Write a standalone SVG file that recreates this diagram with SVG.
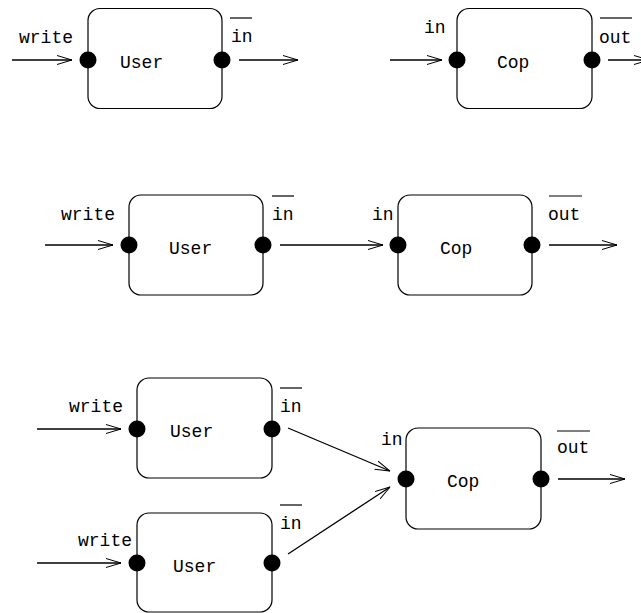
<svg xmlns="http://www.w3.org/2000/svg" width="641" height="613" viewBox="0 0 641 613">
<style>
.box{fill:none;stroke:#000;stroke-width:1.2}
.dot{fill:#000}
.t{font-family:"Liberation Mono","Courier New",monospace;font-size:18px;fill:#000}
.ov{stroke:#000;stroke-width:1.2}
.c{stroke:#000;stroke-width:1.3;fill:none;marker-end:url(#ah)}
</style>
<defs>
<marker id="ah" viewBox="0 0 15 10" refX="15" refY="5" markerWidth="15" markerHeight="10" markerUnits="userSpaceOnUse" orient="auto">
<path d="M0,0.5 L15,5 L0,9.5" fill="none" stroke="#000" stroke-width="1"/>
</marker>
</defs>
<rect width="641" height="613" fill="#fff"/>

<g id="user1">
<rect class="box" x="88" y="8.5" width="134" height="100" rx="12"/>
<circle class="dot" cx="88" cy="60" r="8.5"/>
<circle class="dot" cx="222" cy="60" r="8.5"/>
<text class="t" x="120" y="68">User</text>
<text class="t" x="19" y="43">write</text>
<text class="t" x="231" y="42">in</text>
<line class="ov" x1="230" y1="18" x2="252" y2="18"/>
</g>

<g id="cop1">
<rect class="box" x="457" y="8.5" width="135" height="100" rx="12"/>
<circle class="dot" cx="457" cy="60" r="8.5"/>
<circle class="dot" cx="592" cy="60" r="8.5"/>
<text class="t" x="497" y="68">Cop</text>
<text class="t" x="424" y="33">in</text>
<text class="t" x="599" y="43">out</text>
<line class="ov" x1="600" y1="18" x2="632" y2="18"/>
</g>

<g id="user2">
<rect class="box" x="129" y="195" width="134" height="100" rx="12"/>
<circle class="dot" cx="129" cy="245" r="8.5"/>
<circle class="dot" cx="263" cy="245" r="8.5"/>
<text class="t" x="169" y="254">User</text>
<text class="t" x="61" y="220">write</text>
<text class="t" x="272" y="220">in</text>
<line class="ov" x1="272" y1="196" x2="294" y2="196"/>
</g>

<g id="cop2">
<rect class="box" x="398" y="195" width="134" height="100" rx="12"/>
<circle class="dot" cx="398" cy="245" r="8.5"/>
<circle class="dot" cx="532" cy="245" r="8.5"/>
<text class="t" x="440" y="254">Cop</text>
<text class="t" x="372" y="220">in</text>
<text class="t" x="548" y="220">out</text>
<line class="ov" x1="549" y1="196" x2="582" y2="196"/>
</g>

<g id="user3a">
<rect class="box" x="137" y="378" width="135" height="100" rx="12"/>
<circle class="dot" cx="137" cy="429" r="8.5"/>
<circle class="dot" cx="272" cy="429" r="8.5"/>
<text class="t" x="170" y="437">User</text>
<text class="t" x="69" y="412">write</text>
<text class="t" x="280" y="412">in</text>
<line class="ov" x1="280" y1="388" x2="302" y2="388"/>
</g>

<g id="user3b">
<rect class="box" x="137" y="513" width="135" height="99" rx="12"/>
<circle class="dot" cx="137" cy="563" r="8.5"/>
<circle class="dot" cx="272" cy="563" r="8.5"/>
<text class="t" x="173" y="572">User</text>
<text class="t" x="78" y="546">write</text>
<text class="t" x="280" y="529">in</text>
<line class="ov" x1="280" y1="505" x2="302" y2="505"/>
</g>

<g id="cop3">
<rect class="box" x="406" y="428" width="135" height="101" rx="12"/>
<circle class="dot" cx="406" cy="479" r="8.5"/>
<circle class="dot" cx="541" cy="479" r="8.5"/>
<text class="t" x="447" y="487">Cop</text>
<text class="t" x="381" y="445">in</text>
<text class="t" x="557" y="453">out</text>
<line class="ov" x1="557" y1="431" x2="590" y2="431"/>
</g>

<g id="connectors">
<line class="c" x1="12" y1="60" x2="72" y2="60"/>
<line class="c" x1="239" y1="60" x2="298" y2="60"/>
<line class="c" x1="390" y1="60" x2="442" y2="60"/>
<line class="c" x1="608" y1="60" x2="649" y2="60"/>
<line class="c" x1="45" y1="245" x2="113" y2="245"/>
<line class="c" x1="280" y1="245" x2="383" y2="245"/>
<line class="c" x1="549" y1="245" x2="617" y2="245"/>
<line class="c" x1="37" y1="429" x2="121" y2="429"/>
<line class="c" x1="37" y1="563" x2="121" y2="563"/>
<line class="c" x1="288" y1="428" x2="390" y2="471"/>
<line class="c" x1="288" y1="554" x2="390" y2="487"/>
<line class="c" x1="558" y1="479" x2="625" y2="479"/>
</g>
</svg>
